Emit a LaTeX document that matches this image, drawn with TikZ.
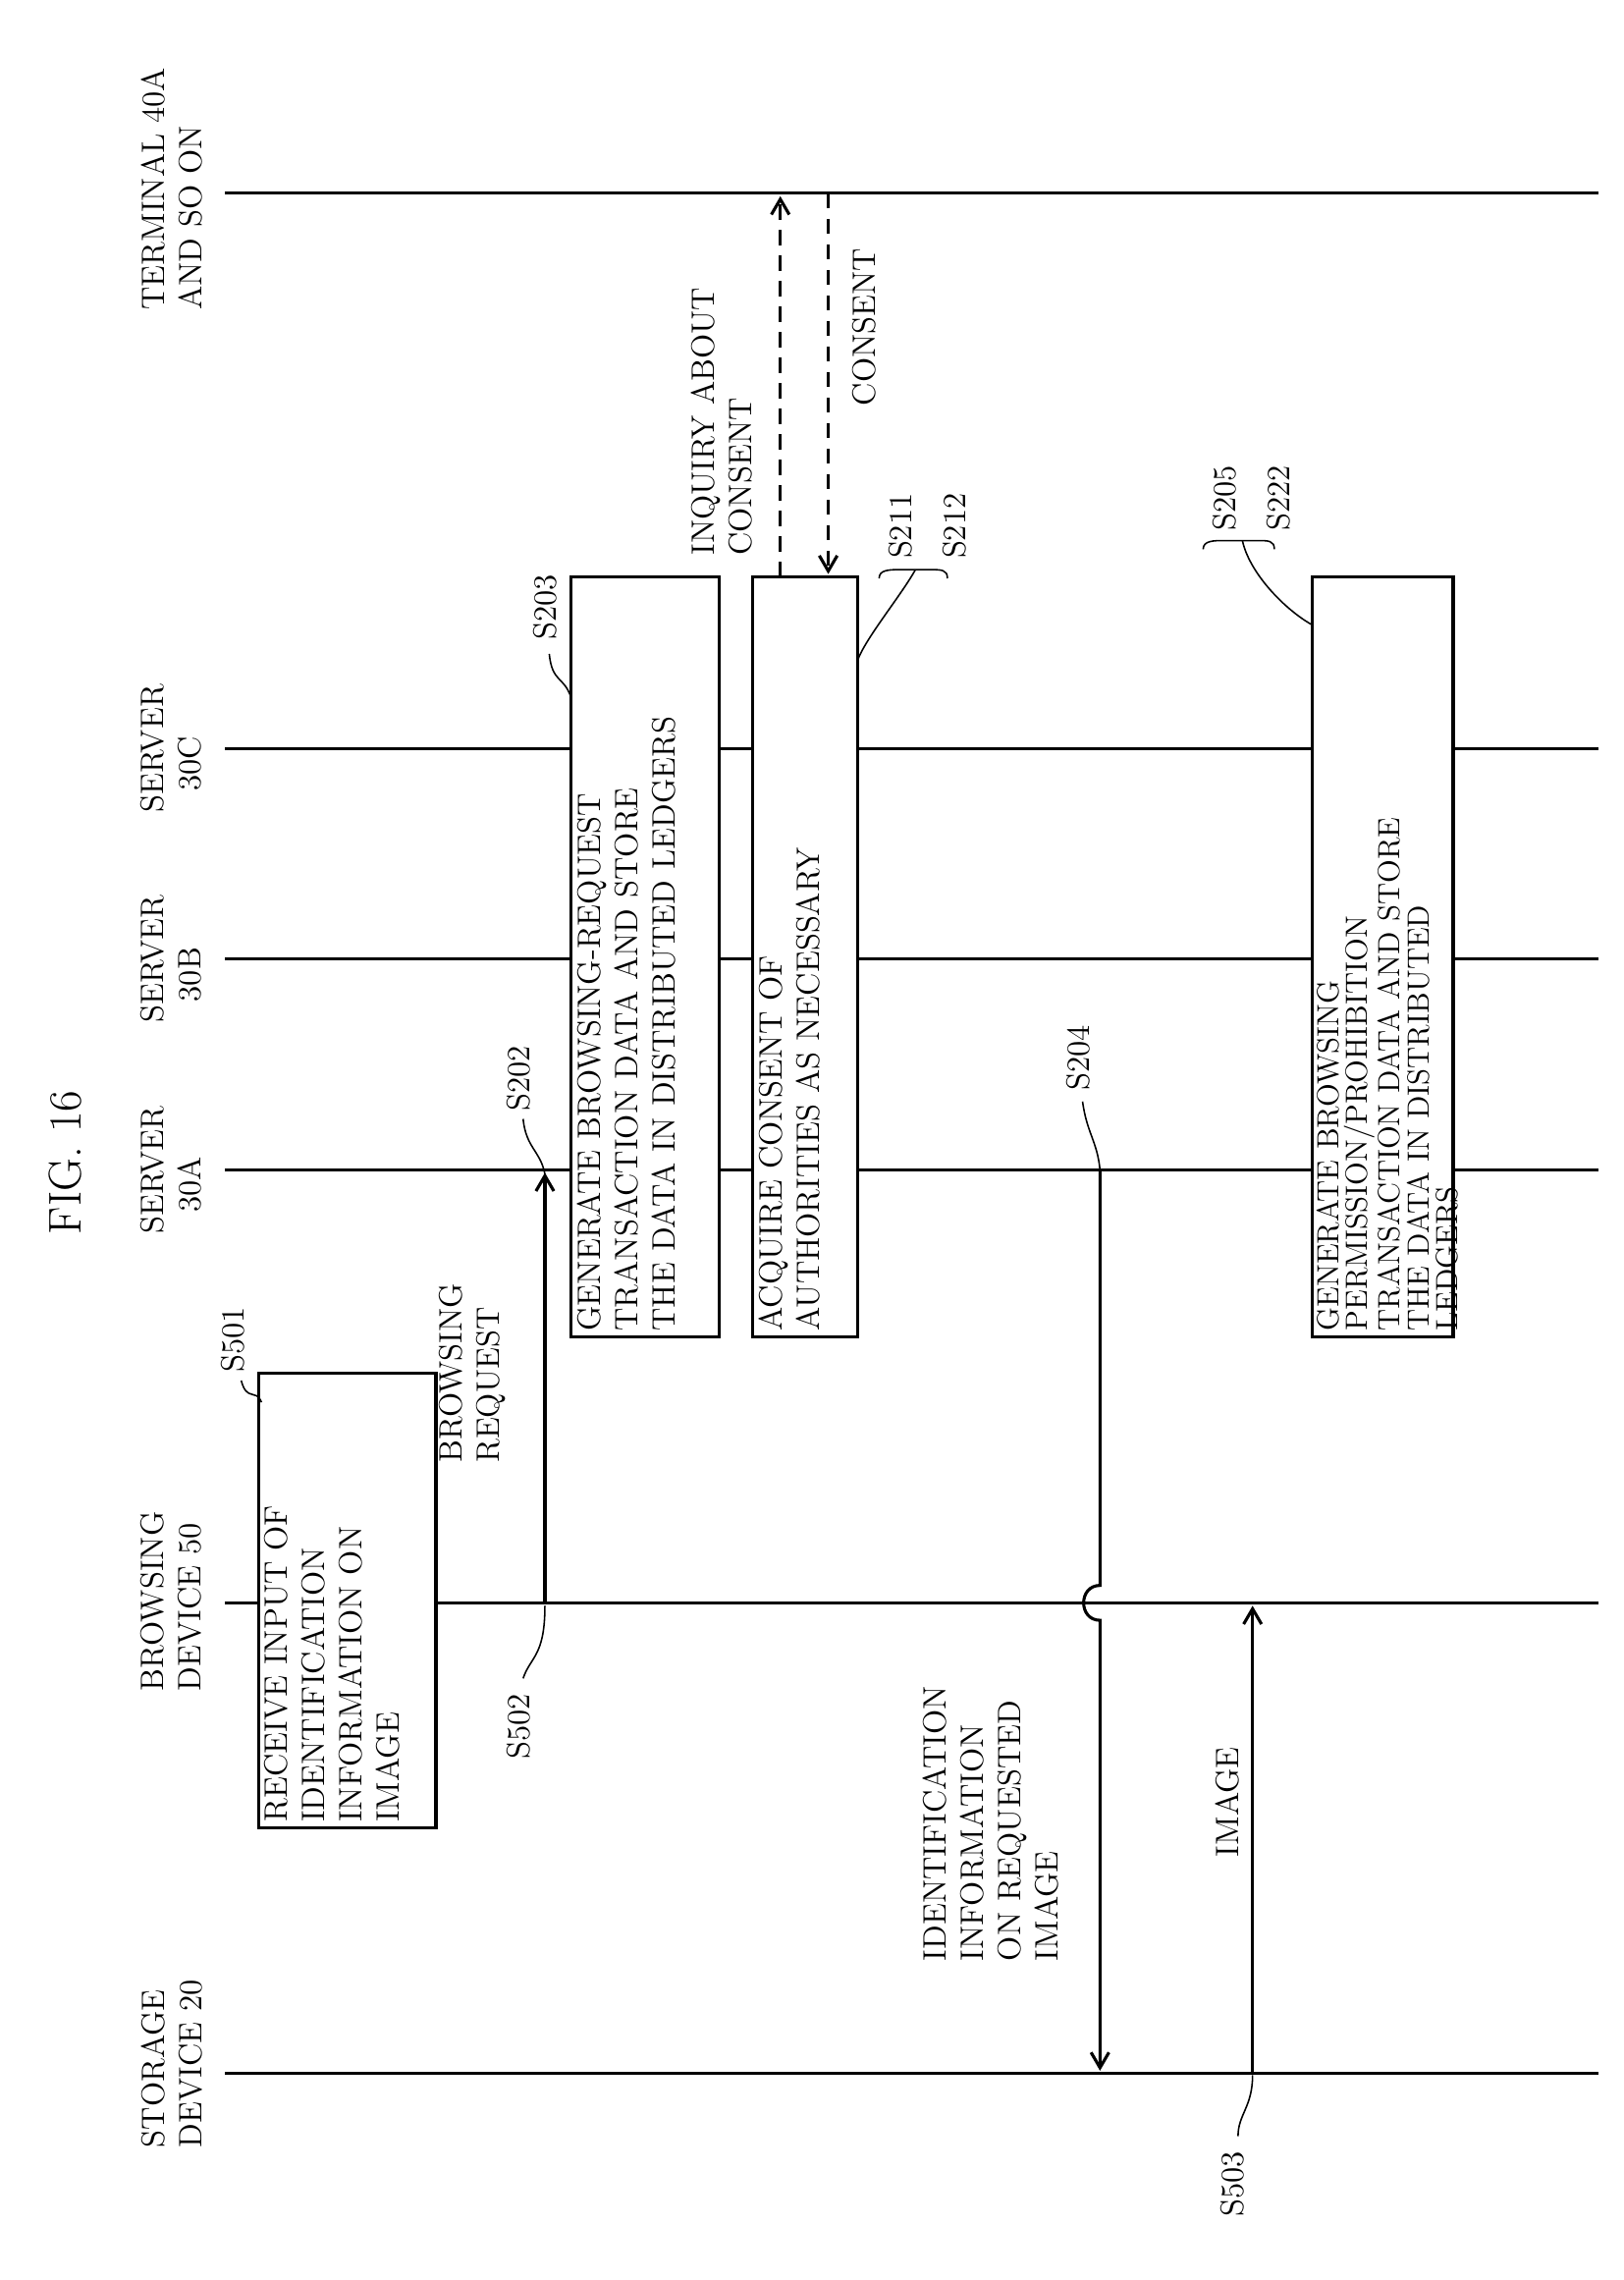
\documentclass[tikz,border=0pt]{standalone}
\begin{document}
\begin{tikzpicture}[x=0.02cm,y=-0.02cm,
  txt/.style={rotate=90,font=\fontsize{12.7}{14.6}\selectfont,inner sep=1pt,align=left},
  lbl/.style={rotate=90,font=\fontsize{12.7}{14.6}\selectfont,inner sep=1pt},
  life/.style={line width=1.2pt},
  msg/.style={line width=1.2pt,-{Straight Barb[length=6pt,width=7pt]}},
  dmsg/.style={line width=1.2pt,dash pattern=on 6pt off 4pt,-{Straight Barb[length=6pt,width=7pt]}},
  box/.style={line width=1.2pt,fill=white},
  lead/.style={line width=0.6pt}]
\usetikzlibrary{arrows.meta}
\useasboundingbox (0,0) rectangle (1117,1569);
% title
\node[lbl,font=\fontsize{18}{20}\selectfont] (fig) at (45,800) {FIG. 16};
% lifeline labels
\node[txt,anchor=center] (l40) at (118,130) {TERMINAL 40A\\AND SO ON};
\node[txt,anchor=center] (l30c) at (118,515) {SERVER\\\ \ 30C};
\node[txt,anchor=center] (l30b) at (118,660) {SERVER\\\ \ 30B};
\node[txt,anchor=center] (l30a) at (118,805) {SERVER\\\ \ 30A};
\node[txt,anchor=center] (l50) at (118,1102) {BROWSING\\DEVICE 50};
\node[txt,anchor=center] (l20) at (118,1420) {STORAGE\\DEVICE 20};
% lifelines
\coordinate (t0) at (155,133); \coordinate (t1) at (1100,133);
\coordinate (c0) at (155,515); \coordinate (c1) at (1100,515);
\coordinate (b0) at (155,660); \coordinate (b1) at (1100,660);
\coordinate (a0) at (155,805); \coordinate (a1) at (1100,805);
\coordinate (d0) at (155,1103); \coordinate (d1) at (1100,1103);
\coordinate (s0) at (155,1427); \coordinate (s1) at (1100,1427);
\foreach \p in {t,c,b,a,d,s} \draw[life] (\p0) -- (\p1);
% S501 box
\draw[box] (178,945) rectangle (300,1258);
\node[txt,anchor=north west,text width=300*0.02cm] (n501) at (180,1256) {RECEIVE INPUT OF\\IDENTIFICATION\\INFORMATION ON\\IMAGE};
\node[lbl] (s501) at (160,922) {S501};
\draw[lead] (166,950) .. controls (170,965) and (176,955) .. (180,965);
% browsing request
\coordinate (br0) at (375,1103); \coordinate (br1) at (375,807);
\draw[msg] (br0) -- (br1);
\node[txt,anchor=center] (brl) at (325,945) {BROWSING\\REQUEST};
\node[lbl] (s502) at (357,1188) {S502};
\draw[lead] (375,1105) .. controls (375,1140) and (365,1140) .. (360,1155);
\node[lbl] (s202) at (357,742) {S202};
\draw[lead] (360,770) .. controls (362,790) and (372,792) .. (375,808);
% S203 box
\draw[box] (393,397) rectangle (495,920);
\node[txt,anchor=north west,text width=515*0.02cm] (n203) at (395,918) {GENERATE BROWSING-REQUEST\\TRANSACTION DATA AND STORE\\THE DATA IN DISTRIBUTED LEDGERS};
\node[lbl] (s203) at (375,418) {S203};
\draw[lead] (378,450) .. controls (380,470) and (388,465) .. (393,480);
% S211 box
\draw[box] (518,397) rectangle (590,920);
\node[txt,anchor=north west,text width=515*0.02cm] (n211) at (520,918) {ACQUIRE CONSENT OF\\AUTHORITIES AS NECESSARY};
\node[lbl] (s211) at (620,362) {S211};
\node[lbl] (s212) at (657,362) {S212};
\draw[lead] (605,398) .. controls (605,392) and (612,392) .. (620,392) .. controls (628,392) and (635,392) .. (640,392) .. controls (648,392) and (652,392) .. (652,398);
\draw[lead] (630,392) .. controls (620,410) and (595,440) .. (590,455);
% dashed arrows
\draw[dmsg] (537,397) -- (537,135);
\node[txt,anchor=center] (inq) at (497,290) {INQUIRY ABOUT\\CONSENT};
\draw[dmsg] (570,133) -- (570,395);
\node[lbl] (cons) at (595,225) {CONSENT};
% S204
\draw[life,-{Straight Barb[length=6pt,width=7pt]}] (757,805) -- (757,1091) .. controls (742,1091) and (742,1115) .. (757,1115) -- (757,1425);
\node[txt,anchor=center] (idl) at (682,1255) {IDENTIFICATION\\INFORMATION\\ON REQUESTED\\IMAGE};
\node[lbl] (s204) at (742,728) {S204};
\draw[lead] (745,758) .. controls (748,780) and (755,785) .. (757,805);
% image
\draw[msg] (862,1427) -- (862,1105);
\node[lbl] (imgl) at (845,1240) {IMAGE};
\node[lbl] (s503) at (848,1503) {S503};
\draw[lead] (862,1428) .. controls (862,1450) and (852,1455) .. (852,1470);
% S205 box
\draw[box] (903,397) rectangle (1000,920);
\node[txt,anchor=north west,text width=515*0.02cm,font=\fontsize{12}{11.4}\selectfont] (n205) at (904,918) {GENERATE BROWSING\\PERMISSION/PROHIBITION\\TRANSACTION DATA AND STORE\\THE DATA IN DISTRIBUTED\\LEDGERS};
\node[lbl] (s205) at (843,343) {S205};
\node[lbl] (s222) at (880,343) {S222};
\draw[lead] (828,378) .. controls (828,372) and (835,372) .. (843,372) .. controls (850,372) and (858,372) .. (865,372) .. controls (873,372) and (877,372) .. (877,378);
\draw[lead] (855,372) .. controls (860,395) and (885,420) .. (903,430);
\end{tikzpicture}
\end{document}
